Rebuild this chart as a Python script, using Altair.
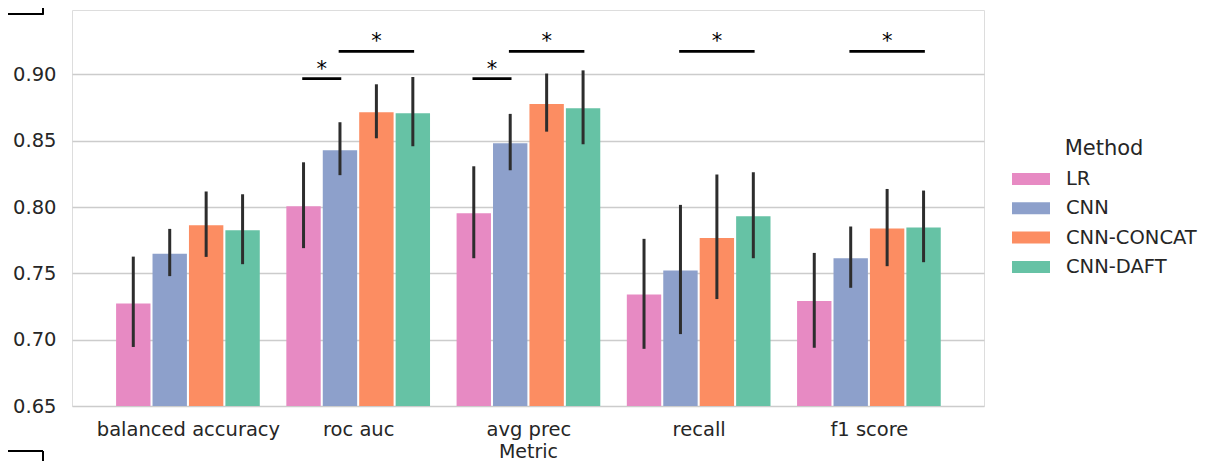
import altair as alt
import pandas as pd

# ---------------- data ----------------
metrics = ["balanced accuracy", "roc auc", "avg prec", "recall", "f1 score"]
methods = ["LR", "CNN", "CNN-CONCAT", "CNN-DAFT"]

lr_mean = [0.7273, 0.8006, 0.7953, 0.7341, 0.7291]
cnn_mean = [0.7647, 0.8428, 0.8480, 0.7522, 0.7614]
concat_mean = [0.7863, 0.8714, 0.8776, 0.7767, 0.7838]
daft_mean = [0.7825, 0.8706, 0.8745, 0.7931, 0.7846]

lr_lo = [0.6945, 0.7690, 0.7614, 0.6931, 0.6939]
lr_hi = [0.7626, 0.8337, 0.8307, 0.7760, 0.7654]
cnn_lo = [0.7479, 0.8240, 0.8277, 0.7042, 0.7391]
cnn_hi = [0.7835, 0.8639, 0.8702, 0.8016, 0.7853]
concat_lo = [0.7624, 0.8518, 0.8568, 0.7306, 0.7554]
concat_hi = [0.8117, 0.8925, 0.9006, 0.8245, 0.8136]
daft_lo = [0.7569, 0.8458, 0.8473, 0.7614, 0.7584]
daft_hi = [0.8096, 0.8980, 0.9030, 0.8262, 0.8124]

# significance brackets (metric index, from method, to method, level)
sig_metric = [1, 1, 2, 2, 3, 4]
sig_from = ["LR", "CNN", "LR", "CNN", "CNN", "CNN"]
sig_to = ["CNN", "CNN-DAFT", "CNN", "CNN-DAFT", "CNN-DAFT", "CNN-DAFT"]
sig_level = [0.8968, 0.9173, 0.8968, 0.9173, 0.9173, 0.9173]
sig_text = ["*", "*", "*", "*", "*", "*"]

y_ticks = [0.65, 0.70, 0.75, 0.80, 0.85, 0.90]

colors = ["#e78ac3", "#8da0cb", "#fc8d62", "#66c2a5"]

# ---------------- layout constants ----------------
offsets = {"LR": -0.321, "CNN": -0.107, "CNN-CONCAT": 0.107, "CNN-DAFT": 0.321}
half = 0.101
FONT = "DejaVu Sans"
TEXT = "#262626"
FS = 19.5

means = [lr_mean, cnn_mean, concat_mean, daft_mean]
los = [lr_lo, cnn_lo, concat_lo, daft_lo]
his = [lr_hi, cnn_hi, concat_hi, daft_hi]

rows = []
for j, m in enumerate(methods):
    for i, met in enumerate(metrics):
        p = i + offsets[m]
        rows.append({"Metric": met, "Method": m, "pos": p, "x0": p - half, "x1": p + half,
                     "mean": means[j][i], "lo": los[j][i], "hi": his[j][i]})
df = pd.DataFrame(rows)

sig_rows = []
for k in range(len(sig_metric)):
    a = sig_metric[k] + offsets[sig_from[k]]
    b = sig_metric[k] + offsets[sig_to[k]]
    sig_rows.append({"xa": a, "xb": b, "xm": (a + b) / 2, "lvl": sig_level[k], "t": sig_text[k]})
sig = pd.DataFrame(sig_rows)

xscale = alt.Scale(domain=[-0.681, 4.676], nice=False, zero=False)
yscale = alt.Scale(domain=[0.65, 0.9485], nice=False, zero=False)

label_expr = "[" + ",".join("'" + m + "'" for m in metrics) + "][datum.value]"

xaxis = alt.Axis(
    values=[0, 1, 2, 3, 4], labelExpr=label_expr, title="Metric", grid=False,
    ticks=False, domain=False, labelPadding=14, labelFontSize=FS, labelFlush=False,
    labelLimit=400, labelOverlap=False,
    titleFontSize=19, titleFontWeight="normal", titleColor=TEXT, labelColor=TEXT,
    titleBaseline="bottom", titleY=55, labelFont=FONT, titleFont=FONT)
yaxis = alt.Axis(
    values=y_ticks, format=".2f", title="", ticks=False, domain=False,
    labelPadding=16, labelFontSize=FS, labelColor=TEXT, labelFont=FONT,
    grid=True, gridColor="#cccccc", gridWidth=1.4)

bars = alt.Chart(df).mark_bar().encode(
    x=alt.X("x0:Q", scale=xscale, axis=xaxis),
    x2="x1:Q",
    y=alt.Y("mean:Q", scale=yscale, axis=yaxis),
    y2=alt.datum(0.65),
    color=alt.Color("Method:N", scale=alt.Scale(domain=methods, range=colors),
                    legend=alt.Legend(
                        orient="none", legendX=940, legendY=127.5, title="Method",
                        titleFontSize=21, titleFontWeight="normal", titleColor=TEXT,
                        titleFont=FONT, titleAnchor="middle", titlePadding=1.5,
                        labelFontSize=FS, labelColor=TEXT, labelFont=FONT,
                        labelOffset=16, rowPadding=0.3, padding=0,
                        symbolType="M-1,-0.316L1,-0.316L1,0.316L-1,0.316Z",
                        symbolSize=1444, symbolStrokeWidth=0, symbolOpacity=1)),
)

errs = alt.Chart(df).mark_rule(color="#2d2d2d", strokeWidth=3).encode(
    x=alt.X("pos:Q", scale=xscale, axis=xaxis),
    y=alt.Y("lo:Q", scale=yscale, axis=yaxis),
    y2="hi:Q",
)

sig_lines = alt.Chart(sig).mark_rule(color="black", strokeWidth=2.6, strokeCap="square").encode(
    x=alt.X("xa:Q", scale=xscale, axis=xaxis),
    x2="xb:Q",
    y=alt.Y("lvl:Q", scale=yscale, axis=yaxis),
)

stars = alt.Chart(sig).mark_text(color="black", fontSize=21, font=FONT, baseline="alphabetic",
                                 align="center", dy=-3).encode(
    x=alt.X("xm:Q", scale=xscale, axis=xaxis),
    y=alt.Y("lvl:Q", scale=yscale, axis=yaxis),
    text="t:N",
)

# stray frame corners seen at the left edge of the reference picture
corner_style = dict(color="black", strokeWidth=1.3)
c1 = alt.Chart(df).mark_rule(**corner_style).encode(x=alt.value(-64), x2=alt.value(-29.3), y=alt.value(4.3))
c2 = alt.Chart(df).mark_rule(**corner_style).encode(x=alt.value(-29.3), y=alt.value(-2), y2=alt.value(4.3))
c3 = alt.Chart(df).mark_rule(**corner_style).encode(x=alt.value(-64), x2=alt.value(-29.3), y=alt.value(441))
c4 = alt.Chart(df).mark_rule(**corner_style).encode(x=alt.value(-29.3), y=alt.value(441), y2=alt.value(452))

chart = alt.layer(bars, errs, sig_lines, stars, c1, c2, c3, c4).properties(
    width=912, height=396,
    padding={"left": 64, "top": 2, "right": 214, "bottom": 55},
    autosize=alt.AutoSizeParams(type="none"),
).configure_view(stroke="#cccccc", strokeWidth=1.8).configure(font=FONT)

chart.save("out.html", embed_options={"renderer": "svg", "actions": False})
